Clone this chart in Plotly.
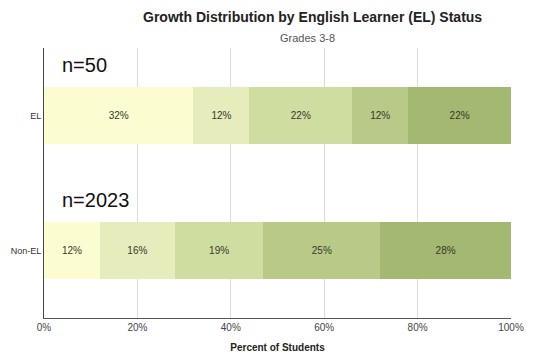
import plotly.graph_objects as go

# Growth distribution shares (percent of students) per growth band
groups = ["EL", "Non-EL"]
group_sizes = ["n=50", "n=2023"]
band_1 = [32, 12]
band_2 = [12, 16]
band_3 = [22, 19]
band_4 = [12, 25]
band_5 = [22, 28]
tick_vals = [0, 20, 40, 60, 80, 100]
tick_text = ["0%", "20%", "40%", "60%", "80%", "100%"]

bands = [band_1, band_2, band_3, band_4, band_5]
colors = ["#fbfdd0", "#e6ecbc", "#d0dda0", "#b9ca88", "#a3b971"]

fig = go.Figure()
for vals, col in zip(bands, colors):
    fig.add_trace(go.Bar(
        x=vals,
        y=groups,
        orientation="h",
        marker=dict(color=col, line=dict(width=0)),
        width=0.415,
        text=[f"{v}%" for v in vals],
        textposition="inside",
        insidetextanchor="middle",
        textangle=0,
        textfont=dict(family="Liberation Sans, Arial", size=10, color="#36382a"),
        hoverinfo="skip",
        showlegend=False,
    ))

fig.update_layout(
    barmode="stack",
    width=544,
    height=354,
    margin=dict(l=44, r=33, t=48, b=36, autoexpand=False),
    paper_bgcolor="white",
    plot_bgcolor="white",
    font=dict(family="Liberation Sans, Arial", size=9, color="#333"),
    uniformtext=dict(mode="show", minsize=10),
    xaxis=dict(
        range=[0, 100],
        tickvals=tick_vals,
        ticktext=tick_text,
        showgrid=True,
        gridcolor="#dcdcdc",
        gridwidth=1,
        zeroline=False,
        showline=True,
        linecolor="#555",
        linewidth=1,
        ticks="",
        automargin=False,
        tickfont=dict(size=10, color="#444"),
        title=dict(text="<b>Percent of Students</b>", font=dict(size=10, color="#222"), standoff=11),
        fixedrange=True,
    ),
    yaxis=dict(
        categoryorder="array",
        categoryarray=groups,
        range=[1.5, -0.5],
        showgrid=False,
        zeroline=False,
        showline=True,
        linecolor="#444",
        linewidth=1,
        ticks="",
        automargin=False,
        ticklabelstandoff=0,
        tickfont=dict(size=9, color="#333"),
        fixedrange=True,
    ),
    annotations=[
        dict(text="<b>Growth Distribution by English Learner (EL) Status</b>",
             xref="paper", yref="paper", x=0.574, y=1.0, yshift=31,
             xanchor="center", yanchor="middle", showarrow=False,
             font=dict(size=14, color="#222")),
        dict(text="Grades 3-8",
             xref="paper", yref="paper", x=0.565, y=1.0, yshift=10,
             xanchor="center", yanchor="middle", showarrow=False,
             font=dict(size=11, color="#555")),
    ] + [
        dict(text=label, xref="paper", yref="y", x=0.034, y=g, yshift=51,
             xanchor="left", yanchor="middle", showarrow=False,
             font=dict(size=20, color="#111"))
        for label, g in zip(group_sizes, groups)
    ],
)

fig.write_html("out.html")
